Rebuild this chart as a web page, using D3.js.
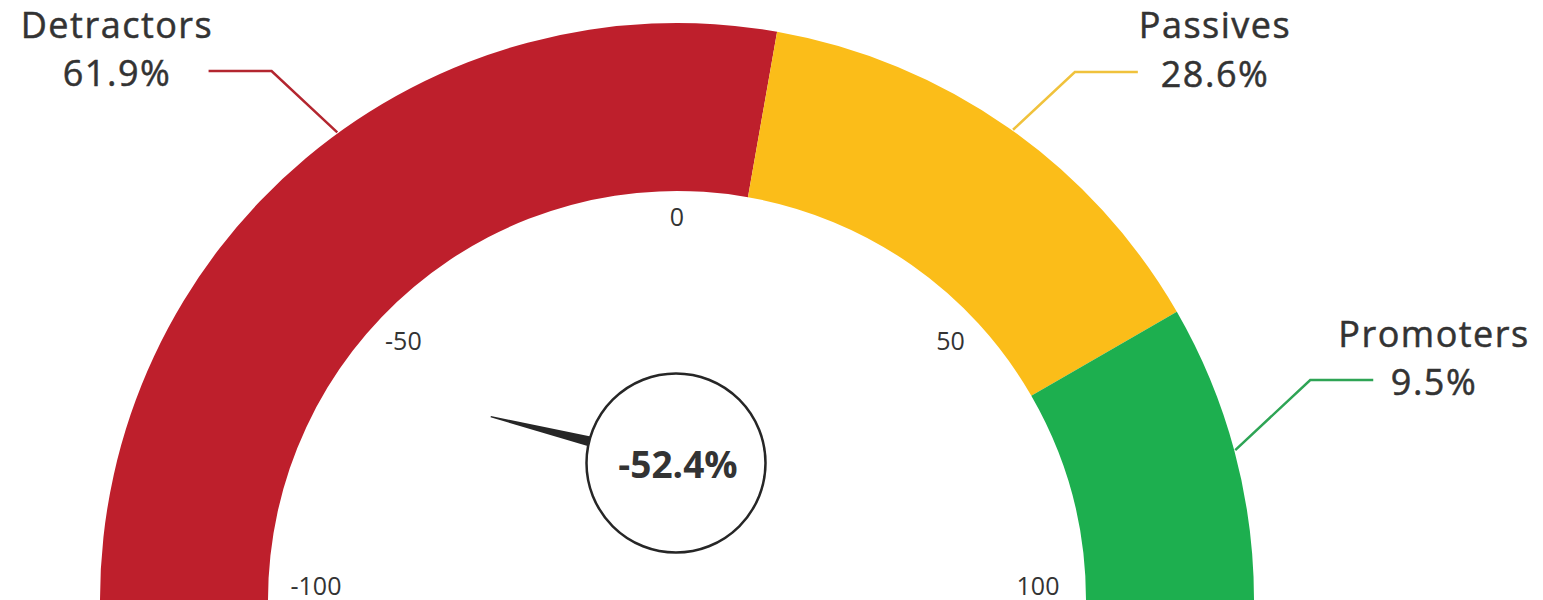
<!DOCTYPE html>
<html>
<head>
<meta charset="utf-8">
<script src="https://cdn.jsdelivr.net/npm/d3@7/dist/d3.min.js"></script>
<style>
  html, body { margin: 0; padding: 0; background: #fff; }
  svg { display: block; }
  text { font-family: "Open Sans", "Noto Sans", sans-serif; }
</style>
</head>
<body>
<svg id="chart" width="1543" height="600"></svg>
<script>
// ---- data ----
const categories   = ["Detractors", "Passives", "Promoters"];
const shares       = [61.9, 28.6, 9.5];          // % of respondents
const segmentEnds  = [11.1, 66.7, 100];          // end of each band on the -100..100 gauge scale
const gaugeMin     = -100;
const gaugeMax     = 100;
const tickValues   = [-100, -50, 0, 50, 100];
const leaderValues = [-40, 39.5, 83.3];          // where each callout touches the band
const npsScore     = -52.4;                      // printed score
const needleValue  = -84.4;                      // where the needle points on the gauge scale
const bandColors   = ["#be1f2c", "#fbbd19", "#1daf4f"];
const leaderColors = ["#b3262f", "#f0c23c", "#2ea455"];

// ---- layout ----
const svg = d3.select("#chart");
const cx = 677, cy = 600;
const outerR = 577, innerR = 409;
const fmt = d3.formatLocale({ decimal: ".", thousands: ",", grouping: [3], currency: ["", ""], minus: "-" }).format(".1f");

const angle = d3.scaleLinear().domain([gaugeMin, gaugeMax]).range([-Math.PI / 2, Math.PI / 2]);

const segments = categories.map((c, i) => ({
  name: c,
  share: shares[i],
  from: i === 0 ? gaugeMin : segmentEnds[i - 1],
  to: segmentEnds[i],
  color: bandColors[i],
  leader: leaderValues[i],
  lcolor: leaderColors[i]
}));

const arc = d3.arc().innerRadius(innerR).outerRadius(outerR);
const g = svg.append("g").attr("transform", `translate(${cx},${cy})`);

g.selectAll("path.band").data(segments).enter().append("path")
  .attr("class", "band")
  .attr("d", d => arc({ startAngle: angle(d.from), endAngle: angle(d.to) }))
  .attr("fill", d => d.color);

// tick labels
const labelR = v => 383 - 22 * Math.pow(Math.abs(v) / 100, 2);
g.selectAll("text.tick").data(tickValues).enter().append("text")
  .attr("class", "tick")
  .attr("x", v => labelR(v) * Math.sin(angle(v)) * (Math.abs(v) === 50 ? 1.025 : 1))
  .attr("y", v => Math.min(-labelR(v) * Math.cos(angle(v)) * (Math.abs(v) === 50 ? 0.97 : 1), -14.5))
  .attr("dy", "0.36em")
  .attr("text-anchor", "middle")
  .attr("font-size", 25)
  .attr("fill", "#333")
  .text(d => d);

// callouts
const labelPos = [
  { x: 117,  y1: 38,  y2: 86,  side: -1 },
  { x: 1215, y1: 38,  y2: 87,  side: 1 },
  { x: 1434, y1: 347, y2: 395, side: 1 }
];
segments.forEach((d, i) => {
  const a = angle(d.leader);
  const ax = cx + 578 * Math.sin(a), ay = cy - 578 * Math.cos(a);
  const p = labelPos[i];
  const lineY = p.y2 - 15;
  const ex = ax + p.side * (ay - lineY) * 1.07;
  const hx = ex + p.side * 63;
  svg.append("path")
    .attr("d", d3.line()([[ax, ay], [ex, lineY], [hx, lineY]]))
    .attr("fill", "none")
    .attr("stroke", d.lcolor)
    .attr("stroke-width", 2.5);
  svg.append("text")
    .attr("x", p.x).attr("y", p.y1)
    .attr("text-anchor", "middle")
    .attr("font-size", 36)
    .attr("letter-spacing", 1.5)
    .attr("fill", "#333")
    .attr("stroke", "#333")
    .attr("stroke-width", 0.5)
    .text(d.name);
  svg.append("text")
    .attr("x", p.x).attr("y", p.y2)
    .attr("text-anchor", "middle")
    .attr("font-size", 36)
    .attr("letter-spacing", 1.5)
    .attr("fill", "#333")
    .attr("stroke", "#333")
    .attr("stroke-width", 0.5)
    .text(fmt(d.share) + "%");
});

// needle + score bubble
const px = 676, py = 463, bubbleR = 89.5, needleLen = 191;
const na = angle(needleValue);
const ux = Math.sin(na), uy = -Math.cos(na);   // direction
const vx = -uy, vy = ux;                        // perpendicular
const baseD = bubbleR - 4, halfW = 5.2;
const needlePts = [
  [px + ux * baseD + vx * halfW, py + uy * baseD + vy * halfW],
  [px + ux * needleLen + vx * 0.7, py + uy * needleLen + vy * 0.7],
  [px + ux * needleLen - vx * 0.7, py + uy * needleLen - vy * 0.7],
  [px + ux * baseD - vx * halfW, py + uy * baseD - vy * halfW]
];
svg.append("path")
  .attr("d", d3.line()(needlePts) + "Z")
  .attr("fill", "#262626");

svg.append("circle")
  .attr("cx", px).attr("cy", py).attr("r", bubbleR)
  .attr("fill", "#fff")
  .attr("stroke", "#262626")
  .attr("stroke-width", 2.5);

svg.append("text")
  .attr("x", px + 2).attr("y", py + 15)
  .attr("text-anchor", "middle")
  .attr("font-size", 37)
  .attr("font-weight", 700)
  .attr("fill", "#333")
  .text(fmt(npsScore) + "%");
</script>
</body>
</html>
